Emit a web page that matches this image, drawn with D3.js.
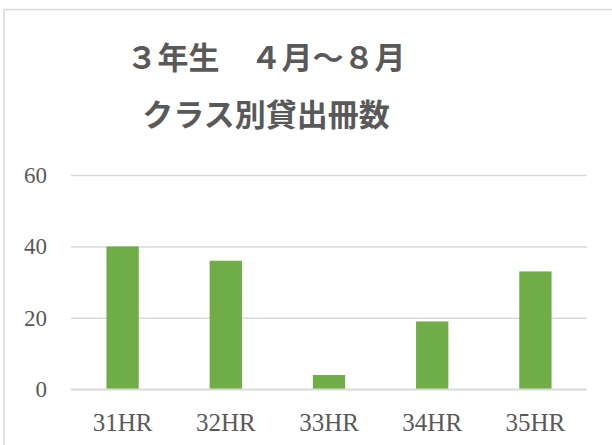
<!DOCTYPE html>
<html>
<head>
<meta charset="utf-8">
<script src="https://cdn.jsdelivr.net/npm/d3@7"></script>
<style>
  body { margin: 0; background: #fff; }
</style>
</head>
<body>
<script>
var w = 612, h = 445;

// data
var titleLines = ['３年生　４月～８月', 'クラス別貸出冊数'];
var classes = ['31HR', '32HR', '33HR', '34HR', '35HR'];
var counts = [40, 36, 4, 19, 33];
var yTicks = [0, 20, 40, 60];

var plot = { left: 71, right: 587, top: 175, bottom: 389.3 };

var svg = d3.select('body').append('svg')
  .attr('width', w)
  .attr('height', h);

// chart area border (runs off the right and bottom edges)
svg.append('rect')
  .attr('x', 4)
  .attr('y', 9.5)
  .attr('width', w + 10)
  .attr('height', h + 10)
  .style('fill', '#fff')
  .style('stroke', '#d9d9d9')
  .style('stroke-width', 1.5);

// title
svg.selectAll('text.title')
  .data(titleLines)
  .enter()
  .append('text')
  .attr('class', 'title')
  .attr('x', 266)
  .attr('y', function (d, i) { return 69 + i * 57; })
  .attr('text-anchor', 'middle')
  .style('font-family', '"Noto Sans CJK JP"')
  .style('font-weight', 'bold')
  .style('font-size', '31px')
  .style('fill', '#595959')
  .text(function (d) { return d; });

var x = d3.scaleBand()
  .domain(classes)
  .range([plot.left, plot.right])
  .paddingInner(0.687)
  .paddingOuter(0.3435);

var y = d3.scaleLinear()
  .domain([0, 60])
  .range([plot.bottom, plot.top]);

// gridlines + y labels
var yAxis = svg.append('g')
  .attr('transform', 'translate(' + plot.left + ',0)')
  .call(d3.axisLeft(y).tickValues(yTicks).tickSize(-(plot.right - plot.left)).tickPadding(24));
yAxis.select('.domain').remove();
yAxis.selectAll('line').style('stroke', '#d9d9d9').style('stroke-width', 1.5);
yAxis.selectAll('text')
  .style('font-family', '"Liberation Serif"')
  .style('font-size', '23px')
  .style('fill', '#595959');

// bars
svg.selectAll('rect.bar')
  .data(counts)
  .enter()
  .append('rect')
  .attr('class', 'bar')
  .attr('x', function (d, i) { return x(classes[i]); })
  .attr('y', function (d) { return y(d); })
  .attr('width', x.bandwidth())
  .attr('height', function (d) { return y(0) - y(d); })
  .style('fill', '#70ad47');

// x labels
var xAxis = svg.append('g')
  .attr('transform', 'translate(0,' + plot.bottom + ')')
  .call(d3.axisBottom(x).tickSize(0).tickPadding(24));
xAxis.select('.domain').remove();
xAxis.selectAll('text')
  .style('font-family', '"Liberation Serif"')
  .style('font-size', '25px')
  .style('fill', '#595959');

// redraw baseline over bars
svg.append('line')
  .attr('x1', plot.left)
  .attr('x2', plot.right)
  .attr('y1', y(0))
  .attr('y2', y(0))
  .style('stroke', '#d9d9d9')
  .style('stroke-width', 1.5);
</script>
</body>
</html>
